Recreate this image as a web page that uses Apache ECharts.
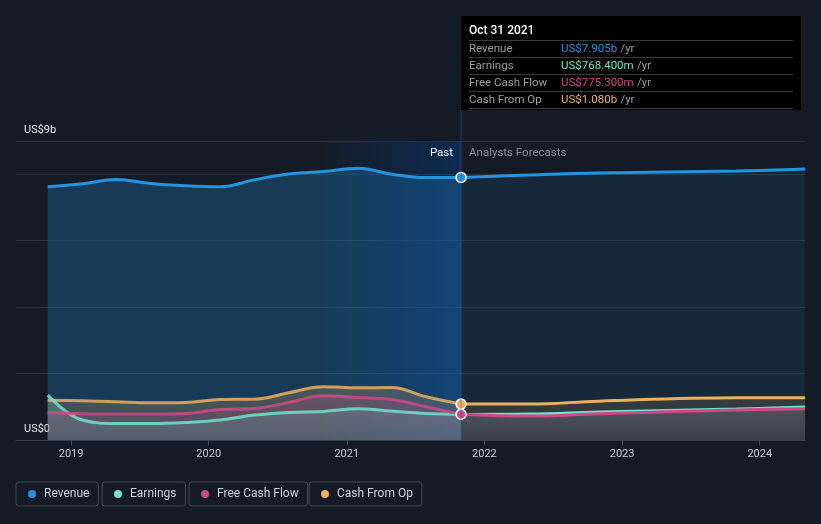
<!DOCTYPE html>
<html><head><meta charset="utf-8">
<script src="https://cdn.jsdelivr.net/npm/echarts@6/dist/echarts.min.js"></script>
<style>html,body{margin:0;padding:0;background:#151b26;} #c{width:821px;height:524px;}</style>
</head><body><div id="c"></div>
<script>
// ---- data ----
const seriesNames = ['Revenue', 'Earnings', 'Free Cash Flow', 'Cash From Op'];
const seriesColors = ['#2394df', '#6fe3cf', '#cc4a86', '#eab05b'];
const pastDates = ['2018-10-31','2019-01-31','2019-04-30','2019-07-31','2019-10-31','2020-01-31','2020-04-30','2020-07-31','2020-10-31','2021-01-31','2021-04-30','2021-07-31','2021-10-31'];
const revenuePast  = [7.62, 7.71, 7.84, 7.72, 7.65, 7.62, 7.83, 8.01, 8.08, 8.18, 8.00, 7.90, 7.905];
const earningsPast = [1.35, 0.60, 0.50, 0.50, 0.53, 0.60, 0.75, 0.83, 0.86, 0.94, 0.87, 0.80, 0.7684];
const fcfPast      = [0.83, 0.79, 0.78, 0.78, 0.80, 0.92, 0.95, 1.13, 1.33, 1.28, 1.22, 1.00, 0.7753];
const cfoPast      = [1.20, 1.18, 1.15, 1.12, 1.13, 1.22, 1.23, 1.42, 1.60, 1.57, 1.58, 1.30, 1.080];
const forecastDates = ['2021-10-31','2022-04-30','2022-10-31','2023-10-31','2024-04-30'];
const revenueFc  = [7.905, 7.98, 8.04, 8.10, 8.16];
const earningsFc = [0.7684, 0.78, 0.84, 0.93, 0.99];
const fcfFc      = [0.7753, 0.72, 0.79, 0.90, 0.94];
const cfoFc      = [1.080, 1.08, 1.17, 1.27, 1.27];
const highlightStart = '2020-10-31';
const nowDate = '2021-10-31';
const tooltipTitle = 'Oct 31 2021';
const xMin = '2018-08-08', xMax = '2024-04-30';
const yMax = 9;
const yLabelValues = [0, 9];
const yLabelTexts = ['US$0', 'US$9b'];
const xLabelYears = ['2019', '2020', '2021', '2022', '2023', '2024'];
const pastText = 'Past', forecastText = 'Analysts Forecasts';

// ---- build ----
const ts = d => Date.parse(d + 'T00:00:00Z');
const pastVals = [revenuePast, earningsPast, fcfPast, cfoPast];
const fcVals = [revenueFc, earningsFc, fcfFc, cfoFc];
const drawOrder = [0, 3, 1, 2];
function rgba(hex, a) {
  const n = parseInt(hex.slice(1), 16);
  return `rgba(${(n >> 16) & 255},${(n >> 8) & 255},${n & 255},${a})`;
}
function fmt(v) { return v >= 1 ? 'US$' + v.toFixed(3) + 'b' : 'US$' + (v * 1000).toFixed(3) + 'm'; }
const yearTicks = xLabelYears.map(y => ts(y + '-01-01'));

const series = [];
drawOrder.forEach(i => {
  const c = seriesColors[i];
  const isRev = i === 0;
  const pv = pastVals[i];
  const n = pv.length;
  const showDot = i !== 1;
  const pastA = isRev ? 0.26 : 0.24;
  const fcA = isRev ? 0.11 : 0.15;
  const s1 = {
    name: seriesNames[i], type: 'line', smooth: 0.4, z: 2,
    data: pastDates.map((d, k) => [ts(d), pv[k]]),
    symbol: 'circle', showSymbol: true, showAllSymbol: true,
    symbolSize: (v, p) => (showDot && p.dataIndex === n - 1) ? 10 : 0,
    itemStyle: { color: c, borderColor: '#ffffff', borderWidth: 1.5 },
    lineStyle: { color: c, width: 3, opacity: isRev ? 1 : 0.85 },
    areaStyle: isRev ? { color: rgba(c, pastA), opacity: 1 } :
      { opacity: 1, color: { type: 'linear', x: 0, y: 0, x2: 0, y2: 1, colorStops: [{ offset: 0, color: rgba(c, pastA) }, { offset: 1, color: rgba(c, pastA * 0.6) }] } },
    emphasis: { disabled: true }
  };
  if (isRev) {
    s1.markArea = {
      silent: true, z: 1,
      itemStyle: { color: { type: 'linear', x: 0, y: 0, x2: 1, y2: 0, colorStops: [{ offset: 0, color: 'rgba(5,58,125,0.05)' }, { offset: 1, color: 'rgba(5,60,130,0.45)' }] } },
      data: [[{ xAxis: ts(highlightStart) }, { xAxis: ts(nowDate) }]]
    };
  }
  const fv = fcVals[i];
  const s2 = {
    name: seriesNames[i], type: 'line', smooth: 0.4, z: 2,
    data: forecastDates.map((d, k) => [ts(d), fv[k]]),
    symbol: 'none', showSymbol: false,
    itemStyle: { color: c },
    lineStyle: { color: c, width: 3 },
    areaStyle: isRev ? { color: rgba(c, fcA), opacity: 1 } :
      { opacity: 1, color: { type: 'linear', x: 0, y: 0, x2: 0, y2: 1, colorStops: [{ offset: 0, color: rgba(c, fcA) }, { offset: 1, color: rgba(c, fcA * 0.5) }] } },
    emphasis: { disabled: true }
  };
  series.push(s2, s1);
});

const legendLefts = [16, 102, 189, 309];
const legends = seriesNames.map((nm, i) => ({
  data: [nm], left: legendLefts[i], top: 482, orient: 'horizontal',
  icon: 'circle', itemWidth: 8, itemHeight: 8,
  padding: [6, 9, 6, 12], borderColor: '#454a54', borderWidth: 1, borderRadius: 3,
  textStyle: { color: '#cfd3da', fontSize: 12, fontFamily: 'Roboto', padding: [0, 0, 0, 3] },
  selectedMode: false
}));

const chart = echarts.init(document.getElementById('c'), null, { renderer: 'canvas' });
chart.setOption({
  backgroundColor: '#151b26',
  animation: false,
  textStyle: { fontFamily: 'Roboto' },
  grid: { left: 16, right: 16, top: 141, bottom: 84, containLabel: false },
  legend: legends,
  xAxis: {
    type: 'value', min: ts(xMin), max: ts(xMax),
    axisLine: { show: true, lineStyle: { color: '#3d434d', width: 1 } },
    axisTick: { show: true, length: 5, lineStyle: { color: '#4a505a' }, customValues: yearTicks },
    axisLabel: { color: '#c8ccd2', fontSize: 11, margin: 9, customValues: yearTicks, formatter: v => String(new Date(v).getUTCFullYear()) },
    splitLine: { show: false }
  },
  yAxis: {
    type: 'value', min: 0, max: yMax, interval: 2,
    axisLine: { show: false }, axisTick: { show: false },
    splitLine: { show: true, lineStyle: { color: '#2b313b', width: 1 } },
    axisLabel: {
      inside: true, margin: 8, verticalAlign: 'bottom', padding: [0, 0, 5, 0],
      color: '#e6e8eb', fontSize: 11,
      customValues: yLabelValues,
      formatter: v => { const k = yLabelValues.indexOf(v); return k >= 0 ? yLabelTexts[k] : ''; }
    }
  },
  series: series
});

// overlay elements positioned from the scales
const xNow = chart.convertToPixel({ xAxisIndex: 0 }, ts(nowDate));
const yBase = chart.convertToPixel({ yAxisIndex: 0 }, 0);
const yTop = chart.convertToPixel({ yAxisIndex: 0 }, yMax);
const tipLeft = Math.round(xNow);
const rowY = [49, 66, 83, 100];
const lastVals = pastVals.map(a => a[a.length - 1]);
const graphic = [
  { type: 'line', z: 50, shape: { x1: xNow, y1: 110, x2: xNow, y2: yBase }, style: { stroke: 'rgba(45,95,160,0.55)', lineWidth: 1 } },
  { type: 'text', z: 50, x: xNow - 8, y: yTop + 12, style: { text: pastText, align: 'right', verticalAlign: 'middle', fill: '#ffffff', font: '11.5px Roboto' } },
  { type: 'text', z: 50, x: xNow + 8, y: yTop + 12, style: { text: forecastText, align: 'left', verticalAlign: 'middle', fill: '#8b9099', font: '11.5px Roboto' } },
  { type: 'rect', z: 60, shape: { x: tipLeft, y: 16, width: 340, height: 94 }, style: { fill: '#000000' } },
  { type: 'text', z: 61, x: tipLeft + 8, y: 31, style: { text: tooltipTitle, verticalAlign: 'middle', fill: '#ffffff', font: '500 12px Roboto' } }
];
[40.5, 57.5, 74.5, 91.5, 108.5].forEach(y => graphic.push({ type: 'line', z: 61, shape: { x1: tipLeft + 8, y1: y, x2: tipLeft + 332, y2: y }, style: { stroke: '#3a3a3a', lineWidth: 1 } }));
seriesNames.forEach((nm, i) => {
  graphic.push({ type: 'text', z: 61, x: tipLeft + 8, y: rowY[i], style: { text: nm, verticalAlign: 'middle', fill: '#9a9ea5', font: '11.5px Roboto' } });
  graphic.push({ type: 'text', z: 61, x: tipLeft + 100, y: rowY[i], style: {
    text: '{v|' + fmt(lastVals[i]) + '} {u|/yr}', verticalAlign: 'middle',
    rich: { v: { fill: seriesColors[i], font: '11.5px Roboto' }, u: { fill: '#9a9ea5', font: '11.5px Roboto' } } } });
});
chart.setOption({ graphic: graphic });
</script>
</body></html>
